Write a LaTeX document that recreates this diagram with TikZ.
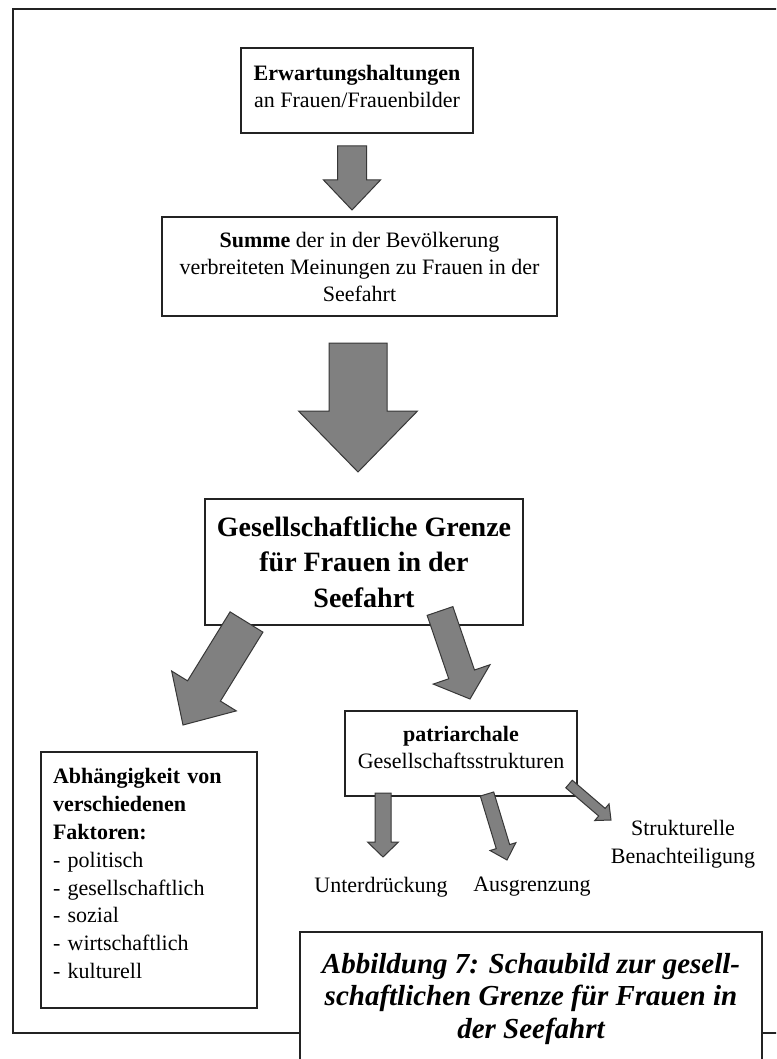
\documentclass[tikz,border=0pt]{standalone}
\usepackage{fontspec}
\setmainfont{Liberation Serif}
\usetikzlibrary{calc}

\definecolor{arrowfill}{RGB}{128,128,128}
\definecolor{arrowline}{RGB}{55,55,55}
\definecolor{boxline}{RGB}{35,35,35}

\tikzset{
  box/.style={draw=boxline, line width=1.2pt, fill=white, align=center, inner sep=0pt,
    font=\fontsize{22}{27}\selectfont},
  label/.style={align=center, inner sep=0pt, font=\fontsize{22}{28}\selectfont},
  fatarrow/.style={draw=arrowline, fill=arrowfill, line width=1pt, line join=miter}
}

% start, tip, shaft half width, head half width, head length
\newcommand{\blockarrow}[5]{%
  \coordinate (hb) at ($(#2)!#5!(#1)$);
  \path[fatarrow] ($(#1)!#3!90:(#2)$) -- ($(hb)!#3!-90:(#1)$) -- ($(hb)!#4!-90:(#1)$) -- (#2)
    -- ($(hb)!#4!90:(#1)$) -- ($(hb)!#3!90:(#1)$) -- ($(#1)!#3!-90:(#2)$) -- cycle;
}

\begin{document}
\begin{tikzpicture}[x=1pt,y=-1pt]
\clip (0,0) rectangle (776,1059);
\fill[white] (0,0) rectangle (776,1059);
\path[draw,line width=1.6pt,color=boxline] (13,9) rectangle (800,1033);

\node[box, minimum width=232pt, minimum height=85pt] (erw) at (357,90.5)
  {\textbf{Erwartungshaltungen}\\an Frauen/Frauenbilder\\[-18pt]~};
\node[box, minimum width=395pt, minimum height=99pt] (summe) at (359.5,266.5)
  {\textbf{Summe} der in der Bevölkerung\\verbreiteten Meinungen zu Frauen in der\\Seefahrt};
\node[box, minimum width=318pt, minimum height=126pt, font=\fontsize{28}{35.5}\selectfont\bfseries] (grenze) at (364,562)
  {Gesellschaftliche Grenze\\für Frauen in der\\Seefahrt};
\node[box, minimum width=232pt, minimum height=85pt] (patr) at (461,753.5)
  {\textbf{patriarchale}\\Gesellschaftsstrukturen\\[-14pt]~};
\node[box, align=left, text width=192pt, inner xsep=12pt, minimum height=256pt, font=\fontsize{22}{27.8}\selectfont] (abh) at (149,880)
  {\textbf{Abhängigkeit von}\\\textbf{verschiedenen}\\\textbf{Faktoren:}\\- politisch\\- gesellschaftlich\\- sozial\\- wirtschaftlich\\- kulturell\\[-15pt]~};

\node[label] (unter) at (381,887) {Unterdrückung};
\node[label] (ausgr) at (532,887) {Ausgrenzung};
\node[label] (struk) at (683,844) {Strukturelle\\Benachteiligung};

\node[box, minimum width=462pt, minimum height=134pt, font=\fontsize{29}{32.5}\selectfont\bfseries\itshape] (capt) at (531,999)
  {Abbildung 7: Schaubild zur gesell-\\schaftlichen Grenze für Frauen in\\der Seefahrt};

\coordinate (a1s) at (352,146);   \coordinate (a1t) at (352,210);
\coordinate (a2s) at (358,343);   \coordinate (a2t) at (358,472);
\coordinate (a3s) at (246.5,622); \coordinate (a3t) at (183,725);
\coordinate (a4s) at (440,611);   \coordinate (a4t) at (470,699);
\coordinate (a5s) at (383,793);   \coordinate (a5t) at (383,857);
\coordinate (a6s) at (487,794);   \coordinate (a6t) at (507,860);
\coordinate (a7s) at (569,784);   \coordinate (a7t) at (611,820);

\blockarrow{a1s}{a1t}{14.5pt}{28.5pt}{30pt}
\blockarrow{a2s}{a2t}{29pt}{59.5pt}{61pt}
\blockarrow{a3s}{a3t}{19.3pt}{38pt}{40pt}
\blockarrow{a4s}{a4t}{13.6pt}{30pt}{26pt}
\blockarrow{a5s}{a5t}{8pt}{15.5pt}{15pt}
\blockarrow{a6s}{a6t}{7pt}{13.5pt}{14pt}
\blockarrow{a7s}{a7t}{5pt}{11pt}{12pt}
\end{tikzpicture}
\end{document}
